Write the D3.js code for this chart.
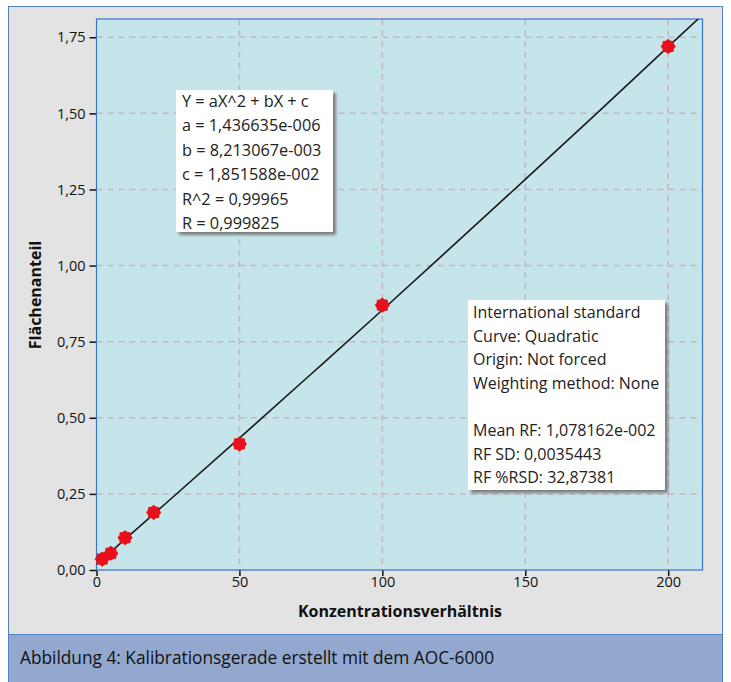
<!DOCTYPE html>
<html><head><meta charset="utf-8">
<script src="https://cdn.jsdelivr.net/npm/d3@7"></script>
<style>body{margin:0;background:#fff;} svg{display:block;}</style>
</head><body>
<svg id="c" width="731" height="682"></svg>
<script>
// ---- data ----
const concentrations = [2, 5, 10, 20, 50, 100, 200];
const areaRatios     = [0.036, 0.055, 0.106, 0.189, 0.414, 0.870, 1.720];
const curveX = [0, 25, 50, 75, 100, 125, 150, 175, 200, 213];
const curveY = [0.0185, 0.225, 0.433, 0.643, 0.854, 1.068, 1.283, 1.500, 1.719, 1.832];
const xTicks = [0, 50, 100, 150, 200];
const yTicks = [0, 0.25, 0.5, 0.75, 1.0, 1.25, 1.5, 1.75];
const fitLines = ["Y = aX^2 + bX + c", "a = 1,436635e-006", "b = 8,213067e-003", "c = 1,851588e-002", "R^2 = 0,99965", "R = 0,999825"];
const infoLines = ["International standard", "Curve: Quadratic", "Origin: Not forced", "Weighting method: None", "", "Mean RF: 1,078162e-002", "RF SD: 0,0035443", "RF %RSD: 32,87381"];
const xTitle = "Konzentrationsverhältnis";
const yTitle = "Flächenanteil";
const caption = "Abbildung 4: Kalibrationsgerade erstellt mit dem AOC-6000";

const FONT = "'Open Sans', 'Noto Sans', sans-serif";
const svg = d3.select("#c");
const defs = svg.append("defs");
const f = defs.append("filter").attr("id","sh").attr("x","-10%").attr("y","-10%").attr("width","130%").attr("height","130%");
f.append("feGaussianBlur").attr("stdDeviation", 1.5);

// outer panel
svg.append("rect").attr("x",8.5).attr("y",6.5).attr("width",714).attr("height",680).attr("fill","#e3e3e3").attr("stroke","#5282c6").attr("stroke-width",1);
svg.append("rect").attr("x",8.5).attr("y",634.5).attr("width",714).attr("height",50).attr("fill","#93a8cf").attr("stroke","#5282c6").attr("stroke-width",1);
svg.append("text").attr("x",20).attr("y",664).attr("font-family",FONT).attr("font-size",17.3).attr("fill","#111").text(caption);

const L = 96.5, T = 19, W = 606, H = 551;
const x = d3.scaleLinear().domain([0, 212]).range([L, L + W]);
const y = d3.scaleLinear().domain([0, 1.81]).range([T + H, T]);

svg.append("rect").attr("x",L).attr("y",T).attr("width",W).attr("height",H).attr("fill","#c6e5eb");

// grid
const g = svg.append("g").attr("stroke","#c2b9bd").attr("stroke-width",1.5).attr("stroke-dasharray","6,5");
g.selectAll("line.v").data(xTicks.filter(d=>d>0)).join("line").attr("x1",d=>x(d)).attr("x2",d=>x(d)).attr("y1",T).attr("y2",T+H);
g.selectAll("line.h").data(yTicks.filter(d=>d>0)).join("line").attr("x1",L).attr("x2",L+W).attr("y1",d=>y(d)).attr("y2",d=>y(d));

// axes
const fmtY = d => d3.format(".2f")(d).replace(".", ",");
const ax = svg.append("g").attr("transform",`translate(0,${T+H})`).call(d3.axisBottom(x).tickValues(xTicks).tickSize(6).tickPadding(1).tickFormat(d3.format("d")));
const ay = svg.append("g").attr("transform",`translate(${L},0)`).call(d3.axisLeft(y).tickValues(yTicks).tickSize(7).tickPadding(4).tickFormat(fmtY));
[ax, ay].forEach(a => {
  a.select(".domain").remove();
  a.selectAll(".tick line").attr("stroke","#111").attr("stroke-width",1.5);
  a.selectAll("text").attr("font-family",FONT).attr("font-size",14.5).attr("fill","#111");
});

// plot border
svg.append("rect").attr("x",L).attr("y",T).attr("width",W).attr("height",H).attr("fill","none").attr("stroke","#3b76c4").attr("stroke-width",1.2);

// clip
defs.append("clipPath").attr("id","pc").append("rect").attr("x",L).attr("y",T).attr("width",W).attr("height",H);

// curve
const curve = curveX.map((d,i)=>[d, curveY[i]]);
svg.append("path").attr("clip-path","url(#pc)").datum(curve)
  .attr("d", d3.line().x(d=>x(d[0])).y(d=>y(d[1])).curve(d3.curveMonotoneX))
  .attr("fill","none").attr("stroke","#1a1a1a").attr("stroke-width",1.6);

// points (jagged blob)
const blob = () => {
  const pts = [];
  for (let i = 0; i < 16; i++) {
    const a = i * Math.PI / 8;
    const r = i % 2 ? 6.2 : 7.6;
    pts.push([r*Math.cos(a), r*Math.sin(a)]);
  }
  return "M" + pts.map(p=>p.join(",")).join("L") + "Z";
};
svg.append("g").selectAll("path").data(concentrations.map((d,i)=>[d, areaRatios[i]])).join("path")
  .attr("transform", d=>`translate(${x(d[0])},${y(d[1])})`)
  .attr("d", blob()).attr("fill","#e8101a");

// text boxes
function box(bx, by, bw, bh, lines, tx, ty0, dy, fs) {
  svg.append("rect").attr("x",bx+3).attr("y",by+3).attr("width",bw).attr("height",bh).attr("fill","#7d7d7d").attr("filter","url(#sh)");
  svg.append("rect").attr("x",bx).attr("y",by).attr("width",bw).attr("height",bh).attr("fill","#fff");
  svg.append("g").selectAll("text").data(lines).join("text")
    .attr("x",tx).attr("y",(d,i)=>ty0 + i*dy).attr("font-family",FONT).attr("font-size",fs).attr("fill","#222").text(d=>d);
}
box(176, 90, 157, 142, fitLines, 182, 107, 24.4, 16.3);
box(468, 300, 197, 190, infoLines, 473, 318, 23.6, 16);

// titles
svg.append("text").attr("x",400).attr("y",617).attr("text-anchor","middle").attr("font-family",FONT).attr("font-weight","bold").attr("font-size",16).attr("fill","#111").text(xTitle);
svg.append("text").attr("transform","translate(41,295) rotate(-90)").attr("text-anchor","middle").attr("font-family",FONT).attr("font-weight","bold").attr("font-size",16).attr("fill","#111").text(yTitle);
</script>
</body></html>
